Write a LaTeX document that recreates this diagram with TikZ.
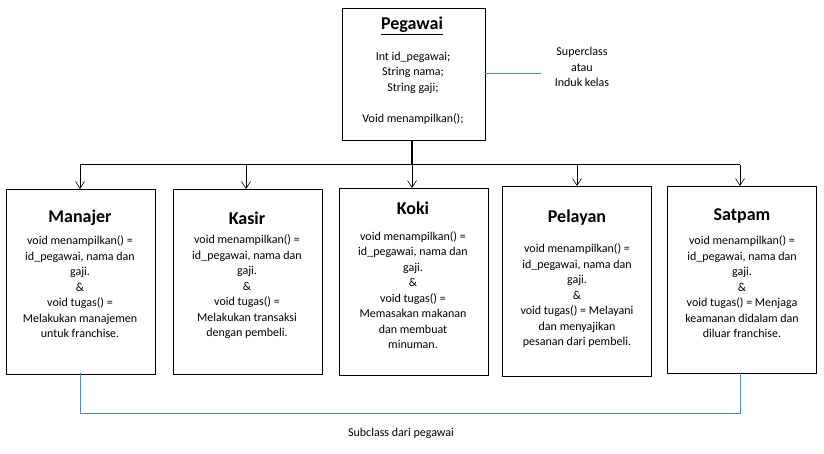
\documentclass[tikz,border=0pt]{standalone}
\usepackage{fontspec}
\setmainfont{Carlito}
\usetikzlibrary{arrows.meta}
\begin{document}
\begin{tikzpicture}[x=1pt,y=-1pt,
 cls/.style={draw,line width=0.9pt,minimum width=149pt,minimum height=185pt,anchor=north west},
 ttl/.style={font=\fontsize{18}{20}\selectfont\bfseries},
 txt/.style={font=\fontsize{12}{15.5}\selectfont,align=center},
 arr/.style={-{Straight Barb[length=7pt,width=9pt]},line width=0.6pt},
 blue/.style={draw=blue!40!cyan!60!black!70,line width=0.6pt}]
\useasboundingbox (0,0) rectangle (824,454);
\node[draw,line width=0.9pt,minimum width=143pt,minimum height=132pt,anchor=north west] (peg) at (342,8) {};
\node[ttl] (pegt) at (412,26) {\underline{Pegawai}};
\node[txt] (pegx) at (413,88) {Int id\_pegawai;\\String nama;\\String gaji;\\[15.5pt]Void menampilkan();};
\node[font=\fontsize{12}{15.5}\selectfont,align=center] (sup) at (582,67) {Superclass\\atau\\Induk kelas};
\coordinate (pt) at (412,140);
\draw[blue] (485,73) -- (541,73);
\node[cls] (m) at (6,189) {};
\node[cls] (k) at (173,189) {};
\node[cls,minimum height=187pt] (ko) at (339,188) {};
\node[cls,minimum height=190pt] (p) at (502,186) {};
\node[cls,minimum height=187pt] (s) at (667,186) {};
\coordinate (j) at (412,165);
\draw[line width=1.5pt] (pt) -- (j);
\draw[line width=1pt] (80,165) -- (740,165);
\foreach \b/\x in {m/80,k/246,ko/412,p/577,s/740}{\draw[arr] (\x,165) -- (\x,\x |- \b.north);}
\node[ttl] at (80,218) {Manajer};
\node[txt] at (80,287) {void menampilkan() =\\id\_pegawai, nama dan\\gaji.\\\&\\void tugas() =\\Melakukan manajemen\\untuk franchise.};
\node[ttl] at (247,218) {Kasir};
\node[txt] at (247,287) {void menampilkan() =\\id\_pegawai, nama dan\\gaji.\\\&\\void tugas() =\\Melakukan transaksi\\dengan pembeli.};
\node[ttl] at (413,208) {Koki};
\node[txt] at (413,290) {void menampilkan() =\\id\_pegawai, nama dan\\gaji.\\\&\\void tugas() =\\Memasakan makanan\\dan membuat\\minuman.};
\node[ttl] at (577,218) {Pelayan};
\node[txt] at (577,296) {void menampilkan() =\\id\_pegawai, nama dan\\gaji.\\\&\\void tugas() = Melayani\\dan menyajikan\\pesanan dari pembeli.};
\node[ttl] at (742,216) {Satpam};
\node[txt] at (742,287) {void menampilkan() =\\id\_pegawai, nama dan\\gaji.\\\&\\void tugas() = Menjaga\\keamanan didalam dan\\diluar franchise.};
\draw[blue] (80,373) -- (80,413) -- (740,413) -- (740,373);
\node[font=\fontsize{12}{14}\selectfont] (sub) at (401,433) {Subclass dari pegawai};
\end{tikzpicture}
\end{document}
